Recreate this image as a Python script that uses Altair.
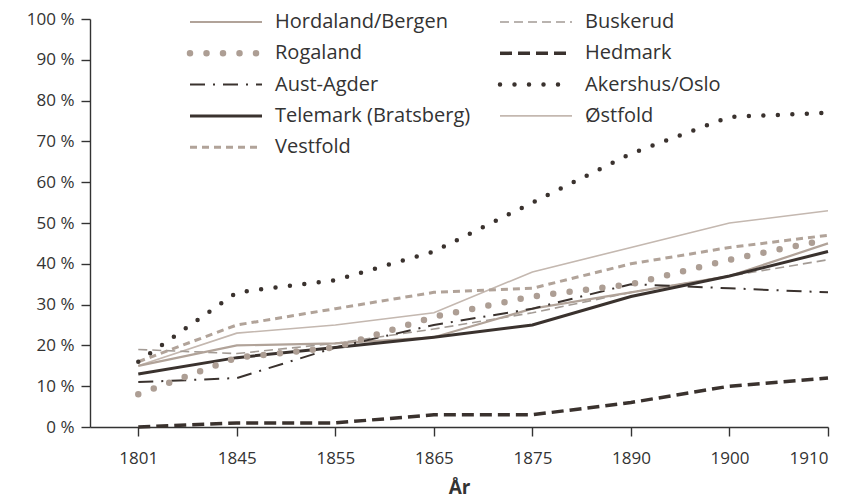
import altair as alt
import pandas as pd

years = ["1801", "1845", "1855", "1865", "1875", "1890", "1900", "1910"]

names = ["Hordaland/Bergen", "Rogaland", "Aust-Agder", "Telemark (Bratsberg)",
         "Vestfold", "Buskerud", "Hedmark", "Akershus/Oslo", "Østfold"]

hordaland = [15, 20, 20.5, 22, 29, 33, 37, 45]
rogaland = [8, 17, 19.5, 27, 32, 35, 41, 46]
aust_agder = [11, 12, 19.5, 25, 29, 35, 34, 33]
telemark = [13, 17, 19.5, 22, 25, 32, 37, 43]
vestfold = [16, 25, 29, 33, 34, 40, 44, 47]
buskerud = [19, 18, 20.5, 24, 28, 33, 37, 41]
hedmark = [0, 1, 1, 3, 3, 6, 10, 12]
akershus = [16, 33, 36, 43, 55, 67, 76, 77]
ostfold = [15, 23, 25, 28, 38, 44, 50, 53]

series_values = [hordaland, rogaland, aust_agder, telemark, vestfold,
                 buskerud, hedmark, akershus, ostfold]

y_ticks = list(range(0, 101, 10))

DARK = "#3a322e"
styles = {
    "Hordaland/Bergen": dict(color="#b1a399", strokeWidth=2.2),
    "Rogaland": dict(color="#ad9e94", strokeWidth=6.5, strokeDash=[0, 16.5], strokeCap="round"),
    "Aust-Agder": dict(color=DARK, strokeWidth=2, strokeDash=[15, 8, 2, 8]),
    "Telemark (Bratsberg)": dict(color=DARK, strokeWidth=3),
    "Vestfold": dict(color="#b1a399", strokeWidth=3, strokeDash=[7, 5]),
    "Buskerud": dict(color="#a39b95", strokeWidth=1.6, strokeDash=[9, 5]),
    "Hedmark": dict(color=DARK, strokeWidth=3.5, strokeDash=[12, 6]),
    "Akershus/Oslo": dict(color=DARK, strokeWidth=4.5, strokeDash=[0, 14.5], strokeCap="round"),
    "Østfold": dict(color="#c4b8b0", strokeWidth=1.6),
}

FONT = "Open Sans"
TEXT = "#333333"

label_array = "[" + ",".join('"%s"' % y for y in years) + "]"

xscale = alt.Scale(domain=[-0.49, len(years) - 1], nice=False, zero=False)
yscale = alt.Scale(domain=[0, 100], nice=False)
xaxis = alt.Axis(values=list(range(len(years))), labelExpr=label_array + "[datum.value]",
                 title="År", titleFontWeight="bold", titleFontSize=19, titleFont=FONT,
                 titleColor=TEXT, titlePadding=12, tickSize=9, labelPadding=14,
                 labelFontSize=17)
yaxis = alt.Axis(values=y_ticks, labelExpr='datum.value + " %"', title=None,
                 tickSize=9, labelPadding=7, labelFontSize=17)

layers = []
order = [8, 5, 0, 4, 6, 3, 2, 1, 7]
for i in order:
    name = names[i]
    df = pd.DataFrame({"idx": list(range(len(years))), "value": series_values[i]})
    layers.append(
        alt.Chart(df).mark_line(**styles[name]).encode(
            x=alt.X("idx:Q", scale=xscale, axis=xaxis),
            y=alt.Y("value:Q", scale=yscale, axis=yaxis),
        )
    )

# legend (layout positions, relative to the plot area)
leg_x0 = [100, 410]
leg_len = 72
leg_text_dx = 85
leg_y0 = 3
leg_dy = 31.3
dummy = pd.DataFrame({"k": [0]})
for i, name in enumerate(names):
    col, row = i // 5, i % 5
    x0 = leg_x0[col]
    y = leg_y0 + row * leg_dy
    layers.append(
        alt.Chart(dummy).mark_rule(**styles[name]).encode(
            x=alt.value(x0), x2=alt.value(x0 + leg_len), y=alt.value(y)
        )
    )
    layers.append(
        alt.Chart(dummy).mark_text(align="left", baseline="middle", fontSize=20,
                                   font=FONT, color=TEXT).encode(
            x=alt.value(x0 + leg_text_dx), y=alt.value(y), text=alt.value(name)
        )
    )

chart = alt.layer(*layers).properties(
    width=738, height=408,
    autosize=alt.AutoSizeParams(type="none"),
    padding={"left": 82, "top": 11, "right": 25, "bottom": 74},
).configure_view(stroke=None).configure_axis(
    grid=False, domainColor=TEXT, domainWidth=1.4, tickColor=TEXT, tickWidth=1.4,
    labelColor=TEXT, labelFont=FONT,
)

chart.save("out.html", embed_options={"renderer": "svg", "actions": False})
